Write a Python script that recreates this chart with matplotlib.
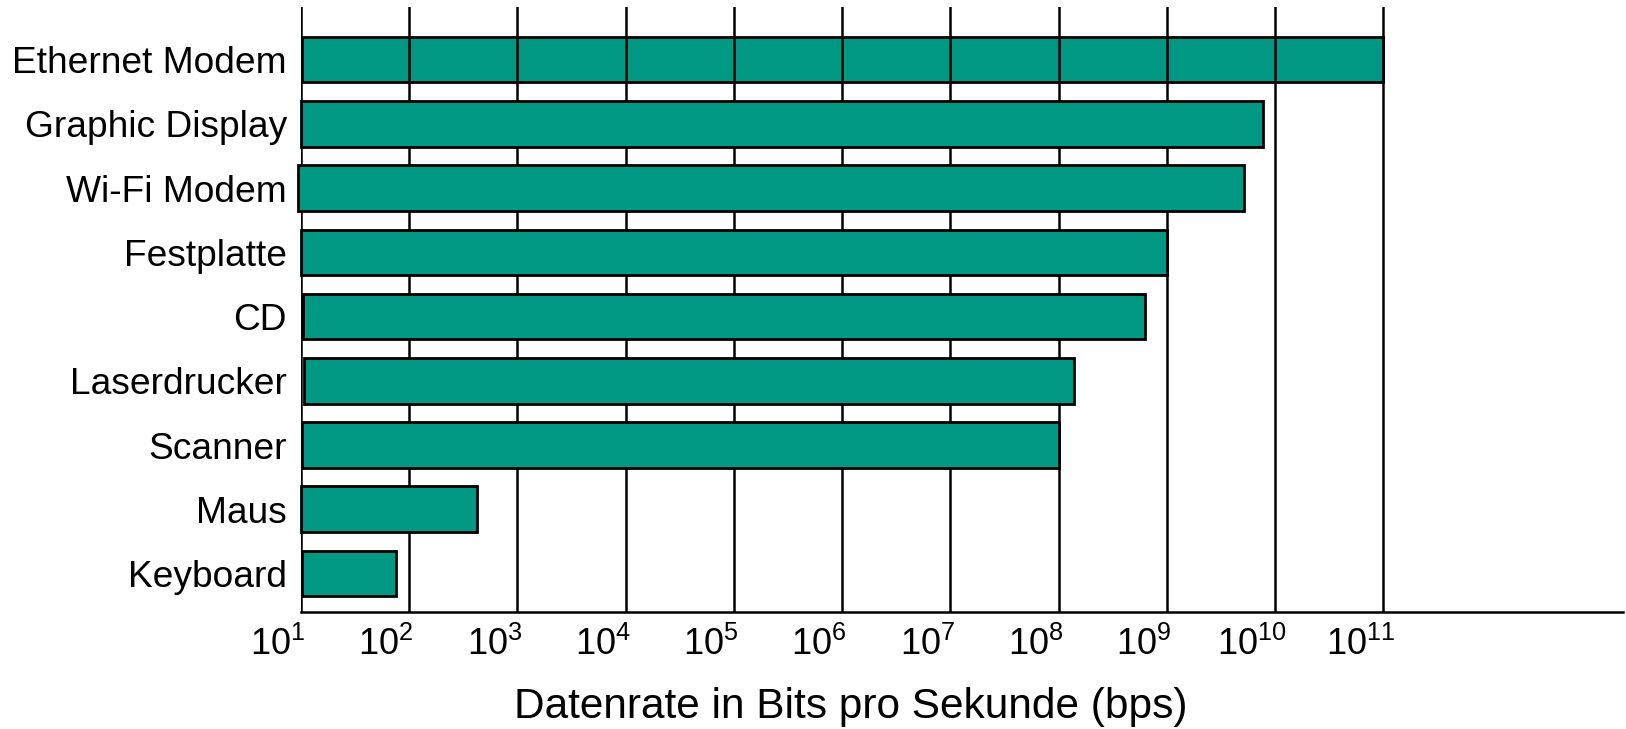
import numpy as np
import matplotlib
matplotlib.use("Agg")
import matplotlib.pyplot as plt
from matplotlib.transforms import ScaledTranslation

plt.rcParams['font.family'] = ['Liberation Sans', 'DejaVu Sans']
plt.rcParams['mathtext.fontset'] = 'custom'
plt.rcParams['mathtext.rm'] = 'Liberation Sans'

# data (bottom to top)
devices = ['Keyboard', 'Maus', 'Scanner', 'Laserdrucker', 'CD',
           'Festplatte', 'Wi-Fi Modem', 'Graphic Display', 'Ethernet Modem']
rate_max = [10**1.88, 10**2.63, 10**8.0, 10**8.14, 10**8.8,
            10**9.0, 10**9.71, 10**9.89, 10**11.0]
rate_min = [10**1.01, 10**1.0, 10**1.01, 10**1.03, 10**1.02,
            10**1.0, 10**0.97, 10**1.0, 10**1.01]
decades = list(range(1, 12))

teal = '#019883'

fig = plt.figure(figsize=(16.26, 7.29), dpi=100)
ax = fig.add_axes([0.185, 0.1605, 0.813, 0.8295])
ax.set_xscale('log')

y = np.arange(len(devices))
w = np.array(rate_max) - np.array(rate_min)
bars = ax.barh(y, w, left=rate_min, height=0.71, color=teal,
               edgecolor='black', linewidth=2.0, zorder=3)
for b in bars:
    b.set_clip_on(False)   # Wi-Fi bar pokes out a bit to the left
# top bar sits behind the grid lines like in the original
bars[-1].set_zorder(1)

for k in decades:
    ax.axvline(10**k, color='black', lw=1.8, zorder=2)

ax.set_xlim(10**1, 10**13.21)
ax.set_ylim(-0.6, len(devices) - 1 + 0.815)

ax.set_yticks(y)
ax.set_yticklabels(devices, fontsize=26.7)
ax.set_xticks([10**k for k in decades])
ax.set_xticklabels([r'$\mathregular{10^{%d}}$' % k for k in decades], fontsize=26)
ax.xaxis.set_minor_locator(matplotlib.ticker.NullLocator())
ax.tick_params(axis='both', length=0)
ax.tick_params(axis='y', pad=10)
ax.tick_params(axis='x', pad=11)
off = ScaledTranslation(-23/100, 0, fig.dpi_scale_trans)
for lbl in ax.get_xticklabels():
    lbl.set_transform(lbl.get_transform() + off)

for s in ['top', 'right', 'left']:
    ax.spines[s].set_visible(False)
ax.spines['bottom'].set_linewidth(1.8)

fig.text(0.523, 0.03, 'Datenrate in Bits pro Sekunde (bps)', fontsize=30.5,
         ha='center', va='center')

fig.savefig('out.png', dpi=100)
